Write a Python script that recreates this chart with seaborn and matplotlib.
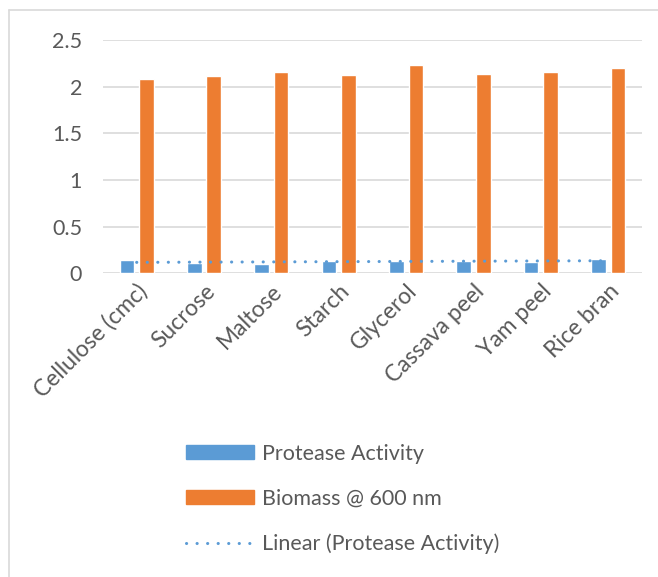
import numpy as np
import pandas as pd
import seaborn as sns
import matplotlib.pyplot as plt
from matplotlib.lines import Line2D
from matplotlib.patches import Patch

# Carbon sources and measured values
carbon = ['Cellulose (cmc)', 'Sucrose', 'Maltose', 'Starch', 'Glycerol',
          'Cassava peel', 'Yam peel', 'Rice bran']
protease = [0.14, 0.11, 0.10, 0.13, 0.13, 0.13, 0.12, 0.15]
biomass = [2.08, 2.11, 2.16, 2.13, 2.23, 2.14, 2.16, 2.20]
series = ['Protease Activity', 'Biomass @ 600 nm']
trend_label = 'Linear (Protease Activity)'

blue = '#5B9BD5'
orange = '#ED7D31'
grey_text = '#595959'
grid_col = '#D9D9D9'
fs = 15.5

sns.set_theme(style='white')
plt.rcParams['font.family'] = ['Lato', 'DejaVu Sans']

df = pd.DataFrame({
    'Source': carbon * 2,
    'Series': [series[0]] * len(carbon) + [series[1]] * len(carbon),
    'Value': protease + biomass,
})

fig = plt.figure(figsize=(6.58, 5.77), dpi=100)
ax = fig.add_axes([0.1565, 0.5263, 0.819, 0.4043])

sns.barplot(data=df, x='Source', y='Value', hue='Series', order=carbon,
            palette=[blue, orange], width=0.58, gap=0.25, ax=ax,
            legend=False, saturation=1, errorbar=None)

# linear trendline over protease activity
xs = np.arange(len(carbon))
k, b = np.polyfit(xs, protease, 1)
ax.plot(xs, k * xs + b, color=blue, lw=2.2, linestyle=(0, (0.05, 3.4)),
        dash_capstyle='round', zorder=3)

ax.set_xlim(-0.5, len(carbon) - 0.5)
ax.set_ylim(0, 2.5)
ax.set_yticks(np.arange(0, 2.51, 0.5))
ax.set_yticklabels(['0', '0.5', '1', '1.5', '2', '2.5'])
ax.yaxis.grid(True, color=grid_col, lw=1.2)
ax.set_axisbelow(True)
for s in ax.spines.values():
    s.set_visible(False)
ax.set_xlabel('')
ax.set_ylabel('')
ax.tick_params(axis='y', length=0, pad=15, labelsize=fs, labelcolor=grey_text)
ax.tick_params(axis='x', length=0, pad=5, labelsize=16.5, labelcolor=grey_text)
plt.setp(ax.get_xticklabels(), rotation=45, ha='right', rotation_mode='anchor')

handles = [Patch(color=blue), Patch(color=orange),
           Line2D([0], [0], color=blue, lw=2.2, linestyle=(0, (0.05, 3.4)),
                  dash_capstyle='round')]
fig.legend(handles, series + [trend_label], loc='center left',
           bbox_to_anchor=(186 / 658, 1 - 499 / 577), frameon=False,
           fontsize=fs, labelcolor=grey_text, handlelength=3.15,
           handleheight=0.6, handletextpad=0.38, labelspacing=1.17,
           borderpad=0, borderaxespad=0)

# chart area border (cropped on right and bottom)
fig.add_artist(Line2D([8.5 / 658, 8.5 / 658], [0, 1 - 10 / 577],
                      transform=fig.transFigure, color=grid_col, lw=1.2))
fig.add_artist(Line2D([8.5 / 658, 1], [1 - 10 / 577, 1 - 10 / 577],
                      transform=fig.transFigure, color=grid_col, lw=1.2))

fig.savefig('out.png', dpi=100)
